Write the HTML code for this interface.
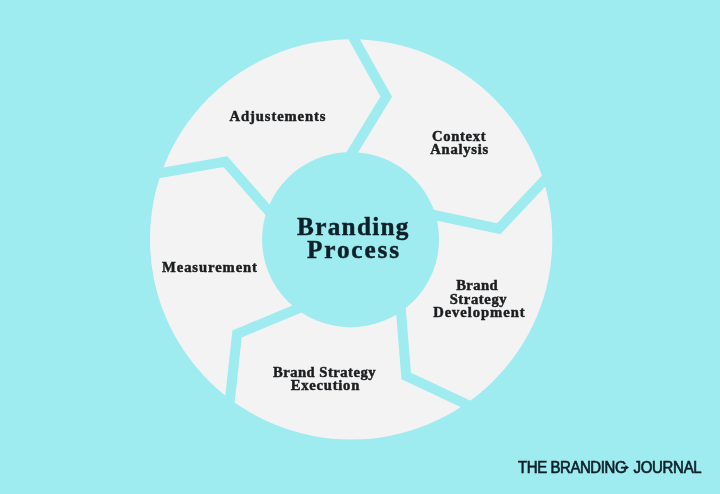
<!DOCTYPE html>
<html lang="en">
<head>
<meta charset="utf-8">
<title>Branding Process</title>
<style>
html,body{margin:0;padding:0;background:#9eebf0;}
body{width:720px;height:494px;overflow:hidden;position:relative;}
svg{display:block;position:absolute;left:0;top:0;}
text{font-family:"Liberation Serif","DejaVu Serif",serif;font-weight:700;fill:#1b1d1f;stroke:#1b1d1f;text-anchor:middle;}
text.big{fill:#0e202a;stroke:#0e202a;}
text.logo{font-family:"Liberation Sans","DejaVu Sans",sans-serif;font-weight:400;fill:#0e202a;stroke:#0e202a;}
</style>
</head>
<body>
<svg width="720" height="494" viewBox="0 0 720 494">
<defs>
<filter id="soft" filterUnits="userSpaceOnUse" x="-20" y="-20" width="760" height="534" color-interpolation-filters="sRGB"><feGaussianBlur stdDeviation="0.7"/></filter>
<filter id="softtext" filterUnits="userSpaceOnUse" x="-20" y="-20" width="760" height="534" color-interpolation-filters="sRGB"><feGaussianBlur stdDeviation="0.4"/></filter>
</defs>
<g filter="url(#soft)">
<rect x="-20" y="-20" width="760" height="534" fill="#9eebf0"/>
<ellipse cx="351.15" cy="239.35" rx="201.2" ry="200.2" fill="#f3f3f3"/>
<polygon points="342.33,28.37 380.46,96.54 340.77,161.43 349.30,166.65 392.04,96.76 351.06,23.49" fill="#9eebf0"/>
<polygon points="549.34,167.69 496.99,223.22 421.86,207.15 419.77,216.93 500.41,234.18 556.62,174.55" fill="#9eebf0"/>
<polygon points="481.89,405.92 410.95,372.65 404.77,296.29 394.80,297.09 401.45,379.25 477.64,414.97" fill="#9eebf0"/>
<polygon points="233.27,414.92 241.70,337.42 312.95,307.63 309.09,298.41 232.40,330.48 223.33,413.84" fill="#9eebf0"/>
<polygon points="147.75,180.36 223.49,167.01 273.99,224.72 281.51,218.14 227.31,156.19 146.01,170.51" fill="#9eebf0"/>
<ellipse cx="350.55" cy="239.6" rx="88.5" ry="87.6" fill="#9eebf0"/>
</g>
<g filter="url(#softtext)">
<text class="lbl" transform="translate(277.50 121.10) scale(1.060 1)" x="0.41" y="0" font-size="13.80" letter-spacing="0.827" stroke-width="0.45">Adjustements</text>
<text class="lbl" transform="translate(458.75 140.60) scale(1.060 1)" x="0.31" y="0" font-size="13.80" letter-spacing="0.629" stroke-width="0.45">Context</text>
<text class="lbl" transform="translate(459.25 153.90) scale(1.060 1)" x="0.35" y="0" font-size="13.80" letter-spacing="0.691" stroke-width="0.45">Analysis</text>
<text class="lbl" transform="translate(476.87 290.40) scale(1.060 1)" x="0.17" y="0" font-size="13.80" letter-spacing="0.349" stroke-width="0.45">Brand</text>
<text class="lbl" transform="translate(478.13 303.70) scale(1.060 1)" x="0.28" y="0" font-size="13.80" letter-spacing="0.566" stroke-width="0.45">Strategy</text>
<text class="lbl" transform="translate(478.88 317.10) scale(1.060 1)" x="0.44" y="0" font-size="13.80" letter-spacing="0.884" stroke-width="0.45">Development</text>
<text class="lbl" transform="translate(324.25 376.60) scale(1.060 1)" x="0.23" y="0" font-size="13.80" letter-spacing="0.455" stroke-width="0.45">Brand Strategy</text>
<text class="lbl" transform="translate(325.00 390.00) scale(1.060 1)" x="0.36" y="0" font-size="13.80" letter-spacing="0.714" stroke-width="0.45">Execution</text>
<text class="lbl" transform="translate(209.50 271.80) scale(1.060 1)" x="0.43" y="0" font-size="13.80" letter-spacing="0.861" stroke-width="0.45">Measurement</text>
<text class="big" transform="translate(352.75 234.60) scale(1.030 1)" x="0.63" y="0" font-size="24.50" letter-spacing="1.263" stroke-width="0.45">Branding</text>
<text class="big" transform="translate(353.00 258.40) scale(1.030 1)" x="0.90" y="0" font-size="24.50" letter-spacing="1.802" stroke-width="0.45">Process</text>
<text class="logo" transform="translate(572.28 472.80) scale(0.960 1)" x="-0.22" y="0" font-size="15.60" letter-spacing="-0.436" stroke-width="0.65">THE BRANDING</text>
<text class="logo" transform="translate(667.55 472.80) scale(0.960 1)" x="-0.14" y="0" font-size="15.60" letter-spacing="-0.279" stroke-width="0.65">JOURNAL</text>
<polygon points="625.4,464.9 629.0,467.5 625.4,470.1" fill="#0e202a"/>
</g>
</svg>
</body>
</html>
